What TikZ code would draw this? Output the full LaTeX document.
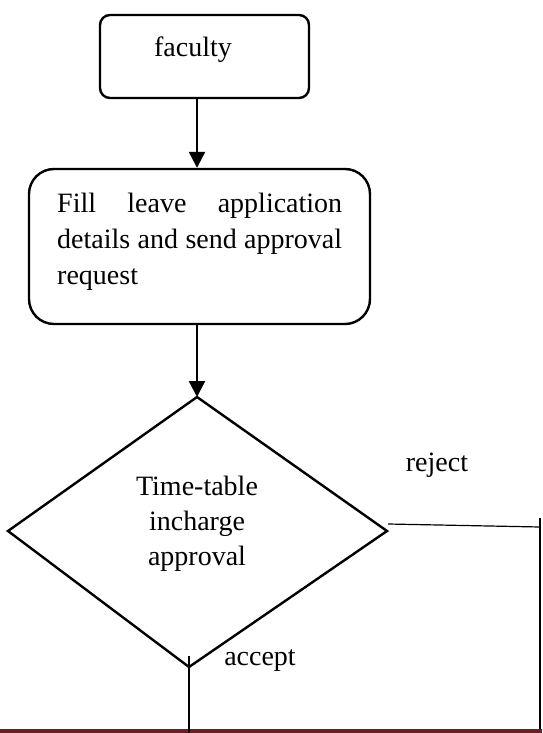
\documentclass[tikz,border=0pt]{standalone}
\usepackage{fontspec}
\setmainfont{Liberation Serif}
\usetikzlibrary{arrows.meta}
\definecolor{barred}{RGB}{98,36,35}
\begin{document}
\begin{tikzpicture}[x=1pt,y=-1pt,
  box/.style={draw,line width=2.4pt,rounded corners=#1},
  txt/.style={font=\fontsize{28}{36}\selectfont,inner sep=0pt},
  flow/.style={line width=2.4pt,-{Triangle[length=16pt,width=16pt]}},
  plain/.style={line width=2.4pt}]
\useasboundingbox (0,0) rectangle (542,733);
\fill[barred] (0,729) rectangle (542,733);
% faculty box
\node[box=10pt,minimum width=209pt,minimum height=83pt] (fac) at (204.5,56.5) {};
\node[txt] (factext) at (193,50) {faculty};
% fill box
\node[box=25pt,minimum width=341pt,minimum height=155pt] (fill) at (199.5,246.5) {};
\node[txt,text width=290pt,align=left,anchor=north west] (filltext) at (57,193)
  {\makebox[285pt]{Fill\hfill leave\hfill application}\\
   \makebox[285pt]{details\hfill and\hfill send\hfill approval}\\
   \makebox[285pt][l]{request}};
% diamond
\coordinate (dtop) at (197,397);
\coordinate (dright) at (387,531);
\coordinate (dbot) at (189,667);
\coordinate (dleft) at (8,531);
\draw[plain,line join=miter] (dtop) -- (dright) -- (dbot) -- (dleft) -- cycle;
\node[txt,align=center,font=\fontsize{28}{35}\selectfont] (dtext) at (197,524) {Time-table\\incharge\\approval};
% arrows
\draw[flow] (fac.south -| dtop) -- (fill.north -| dtop);
\draw[flow] (fill.south -| dtop) -- (dtop);
% reject
\coordinate (rstart) at (388,524);
\coordinate (rend) at (540,527);
\coordinate (rtop) at (540,518);
\coordinate (rbot) at (540,729);
\draw[line width=1.2pt] (rstart) -- (rend);
\draw[plain] (rtop) -- (rbot);
\node[txt] (rejlab) at (437,465) {reject};
% accept
\coordinate (acctop) at (189,656);
\coordinate (accbot) at (189,733);
\draw[plain] (acctop) -- (accbot);
\node[txt] (acclab) at (260,661) {accept};
\end{tikzpicture}
\end{document}
